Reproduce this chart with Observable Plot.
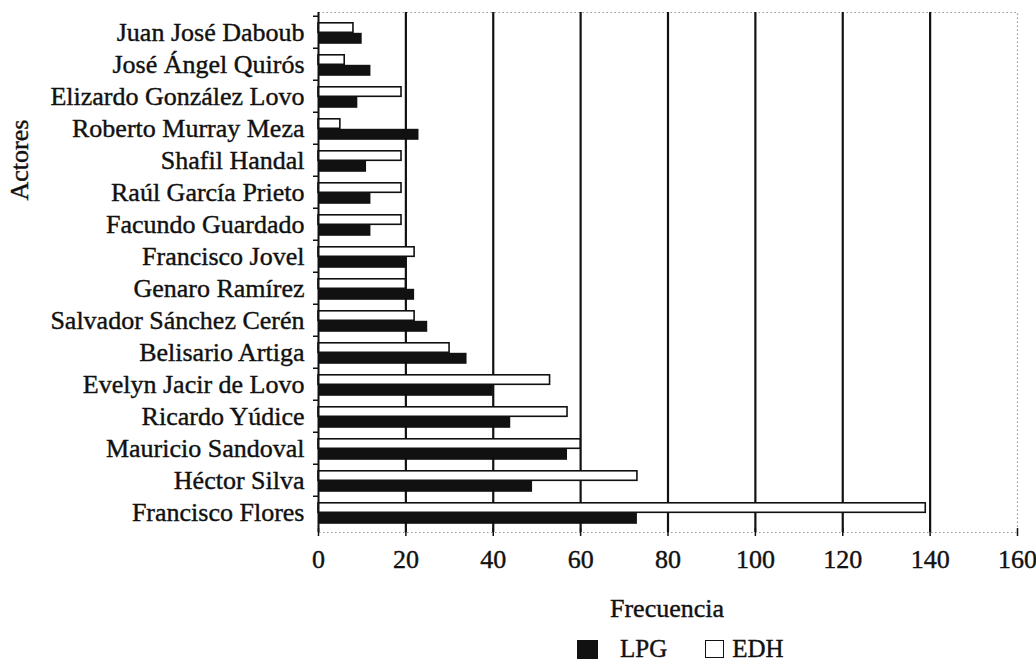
<!DOCTYPE html>
<html>
<head>
<meta charset="utf-8">
<script src="https://cdn.jsdelivr.net/npm/d3@7"></script>
<script src="https://cdn.jsdelivr.net/npm/@observablehq/plot@0.6"></script>
<style>
  body { margin: 0; background: #fff; }
  #wrap { position: relative; width: 1036px; height: 663px; overflow: hidden; font-family: "Liberation Serif", "Times New Roman", serif; color: #111; }
  #chart { position: absolute; left: 0; top: 0; }
  #chart text { stroke: #111; stroke-width: 0.4px; }
  #xlabel { position: absolute; top: 596px; left: 0; width: 1036px; padding-left: 298px; box-sizing: border-box; text-align: center; font-size: 26px; line-height: 26px; -webkit-text-stroke: 0.4px #111; }
  #legend { position: absolute; top: 637px; left: 577px; display: flex; align-items: center; font-size: 25px; line-height: 24px; -webkit-text-stroke: 0.4px #111; }
  .sw { width: 19px; height: 18px; box-sizing: border-box; border: 1.5px solid #111; }
</style>
</head>
<body>
<div id="wrap">
  <div id="chart"></div>
  <div id="xlabel">Frecuencia</div>
  <div id="legend"></div>
</div>
<script>
const actors = ["Juan José Daboub","José Ángel Quirós","Elizardo González Lovo","Roberto Murray Meza","Shafil Handal","Raúl García Prieto","Facundo Guardado","Francisco Jovel","Genaro Ramírez","Salvador Sánchez Cerén","Belisario Artiga","Evelyn Jacir de Lovo","Ricardo Yúdice","Mauricio Sandoval","Héctor Silva","Francisco Flores"];
const lpg = [10,12,9,23,11,12,12,20,22,25,34,40,44,57,49,73];
const edh = [8,6,19,5,19,19,19,22,20,22,30,53,57,60,73,139];
const xTicks = [0,20,40,60,80,100,120,140,160];
const gridTicks = [20,40,60,80,100,120,140];
const seriesNames = ["LPG","EDH"];
const seriesFill = ["#111111","#ffffff"];

const rowsLPG = actors.map((a, i) => ({actor: a, value: lpg[i]}));
const rowsEDH = actors.map((a, i) => ({actor: a, value: edh[i]}));

const font = "Liberation Serif, Times New Roman, serif";

const chart = Plot.plot({
  width: 1036,
  height: 585,
  marginLeft: 318,
  marginRight: 19,
  marginTop: 12,
  marginBottom: 53,
  style: {fontFamily: font, fontSize: "26px", color: "#111", background: "transparent"},
  x: {domain: [0, 160]},
  y: {domain: actors, padding: 0},
  marks: [
    Plot.frame({stroke: "#9a9a9a", strokeDasharray: "1.5,2.5", strokeWidth: 1.2}),
    Plot.gridX(gridTicks, {stroke: "#111", strokeOpacity: 1, strokeWidth: 2.2}),
    Plot.barX(rowsEDH, {y: "actor", x: "value", fill: seriesFill[1], stroke: "#111", strokeWidth: 1.6, insetTop: 6.8, insetBottom: 15.7}),
    Plot.barX(rowsLPG, {y: "actor", x: "value", fill: seriesFill[0], insetTop: 16.8, insetBottom: 4.2}),
    Plot.ruleX([0], {stroke: "#111", strokeWidth: 2}),
    Plot.axisY({tickSize: 0, tickPadding: 14, fontSize: 26, label: null, fill: "#111"}),
    Plot.axisY({tickSize: 5, text: null, dy: -16.25, stroke: "#111", strokeWidth: 1.5, label: null}),
    Plot.axisX({ticks: xTicks, tickSize: 4, tickPadding: 13, fontSize: 26, label: null, stroke: "#111", strokeWidth: 1.5, fill: "#111"}),
    Plot.axisX({ticks: xTicks, tickSize: -4, text: null, label: null, stroke: "#111", strokeWidth: 1.5}),
    Plot.text(["Actores"], {frameAnchor: "left", rotate: -90, dx: -299, dy: -72, fontSize: 26, fill: "#111", text: d => d})
  ]
});
document.getElementById("chart").appendChild(chart);

const legend = document.getElementById("legend");
seriesNames.forEach((name, i) => {
  const sw = document.createElement("div");
  sw.className = "sw";
  sw.style.background = seriesFill[i];
  if (i === 0) { sw.style.width = "21px"; sw.style.height = "19px"; }
  sw.style.marginLeft = i === 0 ? "0px" : "38px";
  legend.appendChild(sw);
  const t = document.createElement("span");
  t.textContent = name;
  t.style.marginLeft = i === 0 ? "22px" : "8px";
  legend.appendChild(t);
});
</script>
</body>
</html>
